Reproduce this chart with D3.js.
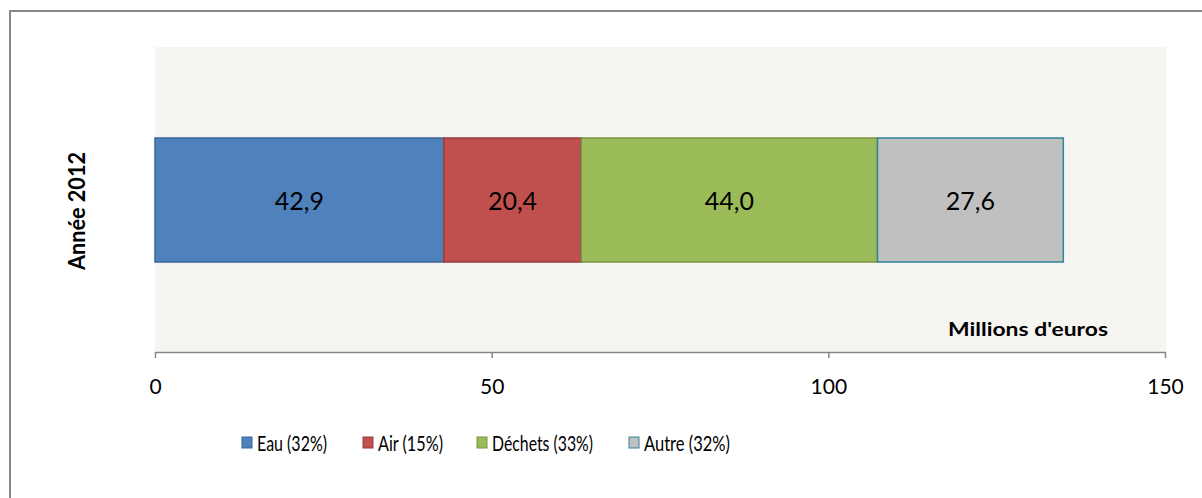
<!DOCTYPE html>
<html><head><meta charset="utf-8">
<script src="https://cdn.jsdelivr.net/npm/d3@7"></script>
<style>body{margin:0;background:#fff}svg{display:block}text{font-family:Lato,"Open Sans","Liberation Sans",sans-serif}</style>
</head><body><div id="c"></div>
<script>
const categories = ["Année 2012"];
const seriesNames = ["Eau (32%)", "Air (15%)", "Déchets (33%)", "Autre (32%)"];
const seriesValues = [42.9, 20.4, 44.0, 27.6];
const valueLabels = ["42,9", "20,4", "44,0", "27,6"];
const tickValues = [0, 50, 100, 150];
const fills = ["#4F81BD", "#C0504D", "#9BBB59", "#C0C0C0"];
const strokes = ["#3B6596", "#9B3B38", "#7A9442", "#31849B"];

const W = 1202, H = 498;
const svg = d3.select("#c").append("svg").attr("width", W).attr("height", H);
svg.append("path").attr("d", `M10,${H} L10,11 L${W},11`).attr("fill", "none")
  .attr("stroke", "#888").attr("stroke-width", 2);

const plot = {l: 155, r: 1166, t: 47, b: 352};
svg.append("rect").attr("x", plot.l).attr("y", plot.t).attr("width", plot.r - plot.l).attr("height", plot.b - plot.t).attr("fill", "#F6F5F1");

const x = d3.scaleLinear().domain([0, 150]).range([plot.l, plot.r - 1]);

let acc = 0;
const segs = seriesValues.map((v, i) => { const s = {x0: acc, x1: acc + v, i}; acc += v; return s; });
const by = 138, bh = 124;
const g = svg.append("g");
g.selectAll("rect.seg").data(segs).join("rect").attr("class", "seg")
  .attr("x", d => x(d.x0)).attr("y", by).attr("width", d => x(d.x1) - x(d.x0)).attr("height", bh)
  .attr("fill", d => fills[d.i]).attr("stroke", d => strokes[d.i]).attr("stroke-width", 1.5);
g.selectAll("text.lab").data(segs).join("text").attr("class", "lab")
  .attr("x", d => (x(d.x0) + x(d.x1)) / 2).attr("y", by + bh / 2 + 1).attr("dy", "0.36em")
  .attr("text-anchor", "middle").attr("font-size", 25).attr("fill", "#000").text(d => valueLabels[d.i]);

const ax = svg.append("g").attr("transform", `translate(0,${plot.b})`)
  .call(d3.axisBottom(x).tickValues(tickValues).tickSize(6).tickSizeOuter(0).tickFormat(d3.format("d")));
ax.select(".domain").attr("stroke", "#868686").attr("stroke-width", 1.5);
ax.selectAll(".tick line").attr("stroke", "#868686").attr("stroke-width", 1.5);
ax.selectAll(".tick text").attr("font-size", 21).attr("fill", "#000").attr("y", 34).attr("dy", "0.36em")
  .style("font-family", 'Lato,"Open Sans","Liberation Sans",sans-serif');

svg.append("text").attr("x", 1108).attr("y", 336).attr("text-anchor", "end").attr("font-size", 19)
  .attr("font-weight", "bold").attr("textLength", 160).attr("lengthAdjust", "spacingAndGlyphs").text("Millions d'euros");
svg.append("text").attr("transform", `translate(77,211) rotate(-90)`)
  .attr("text-anchor", "middle").attr("dy", "0.36em").attr("font-size", 23).attr("font-weight", "bold")
  .attr("textLength", 118).attr("lengthAdjust", "spacingAndGlyphs").text(categories[0]);

const legX = [242, 363, 477, 629];
const legW = [70, 65, 101, 86];
const leg = svg.append("g").selectAll("g").data(seriesNames).join("g")
  .attr("transform", (d, i) => `translate(${legX[i]},443)`);
leg.append("rect").attr("x", 0).attr("y", -6).attr("width", 10).attr("height", 11)
  .attr("fill", (d, i) => fills[i]).attr("stroke", (d, i) => strokes[i]).attr("stroke-width", 1);
leg.append("text").attr("x", 15).attr("dy", "0.36em").attr("font-size", 22)
  .attr("textLength", (d, i) => legW[i]).attr("lengthAdjust", "spacingAndGlyphs").text(d => d);
</script></body></html>
